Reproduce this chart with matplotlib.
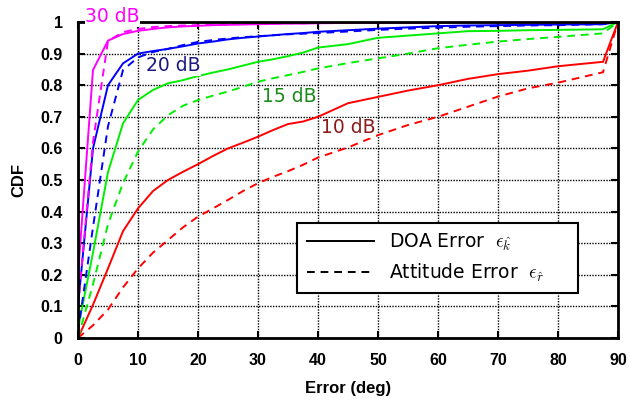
import numpy as np
import matplotlib
matplotlib.use("Agg")
import matplotlib.pyplot as plt

# error axis points (deg)
x_fine = [0, 2.5, 5, 7.5, 10, 12.5, 15, 17.5, 20, 22.5, 25, 27.5, 30, 32.5, 35, 37.5,
          40, 45, 50, 55, 60, 65, 70, 75, 80, 87.5, 90]

# 10 dB
doa_10 = [0.0, 0.105, 0.22, 0.338, 0.41, 0.465, 0.50, 0.526, 0.55, 0.576, 0.60, 0.618,
          0.637, 0.658, 0.677, 0.685, 0.70, 0.743, 0.763, 0.783, 0.80, 0.82, 0.835, 0.846,
          0.86, 0.874, 1.0]
att_10 = [0.0, 0.04, 0.09, 0.16, 0.22, 0.27, 0.31, 0.35, 0.384, 0.41, 0.437, 0.465,
          0.49, 0.51, 0.528, 0.548, 0.571, 0.603, 0.642, 0.674, 0.70, 0.732, 0.764, 0.79,
          0.808, 0.841, 1.0]

# 15 dB
doa_15 = [0.03, 0.27, 0.525, 0.679, 0.753, 0.785, 0.806, 0.816, 0.829, 0.84, 0.85, 0.862,
          0.874, 0.882, 0.892, 0.903, 0.919, 0.93, 0.95, 0.957, 0.964, 0.971, 0.972, 0.974,
          0.975, 0.977, 1.0]
att_15 = [0.0, 0.17, 0.36, 0.49, 0.59, 0.66, 0.705, 0.735, 0.753, 0.767, 0.78, 0.795,
          0.811, 0.822, 0.832, 0.842, 0.853, 0.87, 0.885, 0.9, 0.917, 0.928, 0.938, 0.946,
          0.953, 0.964, 1.0]

# 20 dB
doa_20 = [0.1, 0.6, 0.80, 0.869, 0.90, 0.908, 0.915, 0.923, 0.932, 0.938, 0.945, 0.95,
          0.954, 0.958, 0.962, 0.965, 0.969, 0.974, 0.979, 0.983, 0.987, 0.989, 0.99, 0.991,
          0.992, 0.993, 1.0]
att_20 = [0.02, 0.35, 0.67, 0.848, 0.888, 0.905, 0.915, 0.927, 0.937, 0.943, 0.948, 0.952,
          0.955, 0.958, 0.961, 0.963, 0.965, 0.97, 0.975, 0.979, 0.982, 0.985, 0.987, 0.989,
          0.99, 0.993, 1.0]

# 30 dB
doa_30 = [0.2, 0.848, 0.941, 0.962, 0.972, 0.978, 0.983, 0.986, 0.988, 0.99, 0.991, 0.992,
          0.993, 0.994, 0.995, 0.995, 0.996, 0.997, 0.998, 0.998, 0.998, 0.999, 0.999, 0.999,
          0.999, 0.999, 1.0]
att_30 = [0.1, 0.62, 0.94, 0.968, 0.978, 0.984, 0.987, 0.989, 0.99, 0.992, 0.993, 0.994,
          0.995, 0.995, 0.996, 0.996, 0.997, 0.998, 0.998, 0.999, 0.999, 0.999, 0.999, 0.999,
          0.999, 0.999, 1.0]

snr_labels = ["10 dB", "15 dB", "20 dB", "30 dB"]
snr_colors = ["#ff0000", "#00ee00", "#0000ff", "#ff00ff"]
label_colors = ["#8b1a1a", "#1a8a1a", "#1a1a80", "#ff00ff"]
label_pos = [(40.5, 0.665), (30.7, 0.763), (11.3, 0.861), (1.2, 1.016)]

doa = [doa_10, doa_15, doa_20, doa_30]
att = [att_10, att_15, att_20, att_30]

plt.rcParams['font.family'] = ['DejaVu Sans']
plt.rcParams['mathtext.fontset'] = 'cm'

fig = plt.figure(figsize=(6.29, 4.0), dpi=100)
ax = fig.add_axes([0.124, 0.155, 0.8585, 0.79])

for c, ya, yb in zip(snr_colors, doa, att):
    ax.plot(x_fine, ya, color=c, lw=1.4, solid_joinstyle="miter")
    ax.plot(x_fine, yb, color=c, lw=1.4, dashes=(4, 3))

for lab, col, (lx, ly) in zip(snr_labels, label_colors, label_pos):
    ax.text(lx, ly, lab, color=col, fontsize=13.5, va="center", ha="left",
            clip_on=False, zorder=10,
            bbox=dict(facecolor="white", edgecolor="none", pad=0.3))

ax.set_xlim(0, 90)
ax.set_ylim(0, 1)
ax.set_xticks(np.arange(0, 91, 10))
ax.set_yticks(np.arange(0, 1.01, 0.1))
ax.set_yticklabels(["0", "0.1", "0.2", "0.3", "0.4", "0.5", "0.6", "0.7", "0.8", "0.9", "1"])
ax.grid(True, color="black", linestyle=(0, (1, 1)), linewidth=1.0)
ax.tick_params(direction="in", length=5, width=1.5, top=True, right=True,
               labelsize=11.5)
ax.tick_params(axis="x", pad=11)
ax.tick_params(axis="y", pad=11)
for lbl in ax.get_xticklabels() + ax.get_yticklabels():
    lbl.set_fontfamily("Liberation Sans")
    lbl.set_fontweight("bold")
for s in ax.spines.values():
    s.set_linewidth(2)

ax.set_xlabel("Error (deg)", fontfamily="Liberation Sans", fontweight="bold",
              fontsize=12, labelpad=9)
ax.set_ylabel("CDF", fontfamily="Liberation Sans", fontweight="bold",
              fontsize=12, labelpad=10)

h1, = ax.plot([], [], color="black", lw=1.4)
h2, = ax.plot([], [], color="black", lw=1.4, dashes=(4, 3))
leg = ax.legend([h1, h2], [r"DOA Error  $\epsilon_{\hat{k}}$", r"Attitude Error  $\epsilon_{\hat{r}}$"],
                loc="lower left", bbox_to_anchor=(0.406, 0.142, 0.52, 0.225),
                borderaxespad=0, mode="expand", fontsize=13.5, fancybox=False,
                framealpha=1, edgecolor="black", handlelength=3.6, borderpad=0.5,
                labelspacing=0.45)
leg.get_frame().set_linewidth(1.5)

fig.savefig("out.png", dpi=100)
